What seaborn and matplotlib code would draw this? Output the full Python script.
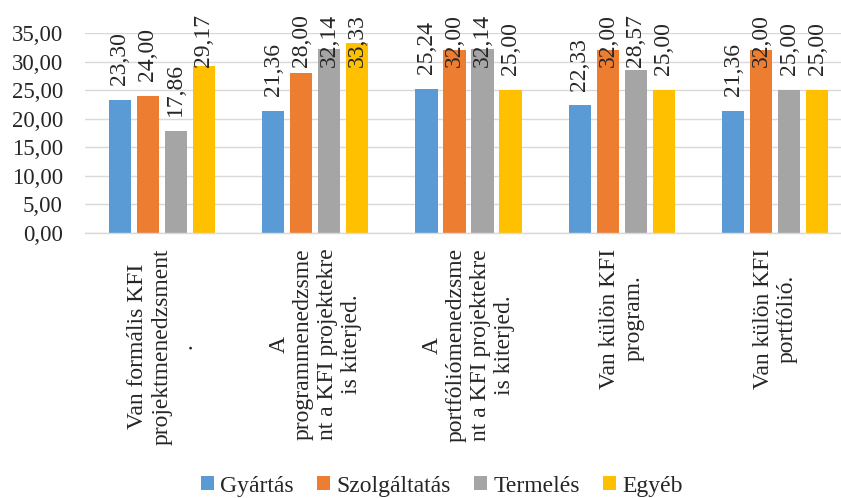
import matplotlib
matplotlib.use("Agg")
import matplotlib.pyplot as plt
import pandas as pd
import seaborn as sns

# Survey shares (%) by sector for each KFI management statement
categories = [
    "Van formális KFI\nprojektmenedzsment\n.",
    "A\nprogrammenedzsme\nnt a KFI projektekre\nis kiterjed.",
    "A\nportfóliómenedzsme\nnt a KFI projektekre\nis kiterjed.",
    "Van külön KFI\nprogram.",
    "Van külön KFI\nportfólió.",
]
series = ["Gyártás", "Szolgáltatás", "Termelés", "Egyéb"]
gyartas = [23.30, 21.36, 25.24, 22.33, 21.36]
szolgaltatas = [24.00, 28.00, 32.00, 32.00, 32.00]
termeles = [17.86, 32.14, 32.14, 28.57, 25.00]
egyeb = [29.17, 33.33, 25.00, 25.00, 25.00]
y_ticks = [0, 5, 10, 15, 20, 25, 30, 35]

colors = ["#5B9BD5", "#ED7D31", "#A5A5A5", "#FFC000"]

values = [gyartas, szolgaltatas, termeles, egyeb]
df = pd.DataFrame(
    [(cat, s, vals[i]) for s, vals in zip(series, values) for i, cat in enumerate(categories)],
    columns=["kategoria", "ágazat", "érték"],
)

sns.set_style("white")
plt.rcParams["font.family"] = ["Liberation Serif", "DejaVu Serif"]

fig = plt.figure(figsize=(8.41, 4.98), dpi=100)
ax = fig.add_axes([85 / 841, 1 - 233 / 498, 767 / 841, 200 / 498])

sns.barplot(
    data=df, x="kategoria", y="érték", hue="ágazat",
    order=categories, hue_order=series, palette=colors, saturation=1,
    width=0.73, gap=0.21, linewidth=0, errorbar=None, ax=ax,
)

ax.set_ylim(0, 35)
ax.set_yticks(y_ticks)
ax.set_yticklabels([f"{t:.2f}".replace(".", ",") for t in y_ticks], fontsize=16.5)
ax.set_xticks(range(len(categories)))
ax.set_xticklabels(categories, rotation=90, fontsize=17, ha="center", va="top",
                   multialignment="center", linespacing=1.2)
ax.tick_params(axis="both", length=0)
ax.tick_params(axis="y", pad=16)
ax.tick_params(axis="x", pad=11)
ax.set_xlabel("")
ax.set_ylabel("")

ax.yaxis.grid(True, color="#D9D9D9", linewidth=1.0)
ax.set_axisbelow(True)
for side in ["top", "right", "left"]:
    ax.spines[side].set_visible(False)
ax.spines["bottom"].set_color("#D9D9D9")
ax.spines["bottom"].set_linewidth(1.0)

# Value labels above bars, pushed down when they would leave the chart area
for container in ax.containers:
    for bar in container:
        h = bar.get_height()
        y = min(h + 2.6, 29.0)
        ax.text(bar.get_x() + bar.get_width() / 2, y, f"{h:.2f}".replace(".", ","),
                rotation=90, ha="center", va="bottom", fontsize=17, clip_on=False)

handles, labels = ax.get_legend_handles_labels()
ax.legend(handles, labels, loc="center", bbox_to_anchor=(442 / 841, 12 / 498),
          bbox_transform=fig.transFigure, ncol=4, frameon=False, fontsize=17,
          handlelength=0.55, handleheight=0.55, handletextpad=0.25, columnspacing=1.0,
          borderaxespad=0)

fig.savefig("out.png", dpi=100)
